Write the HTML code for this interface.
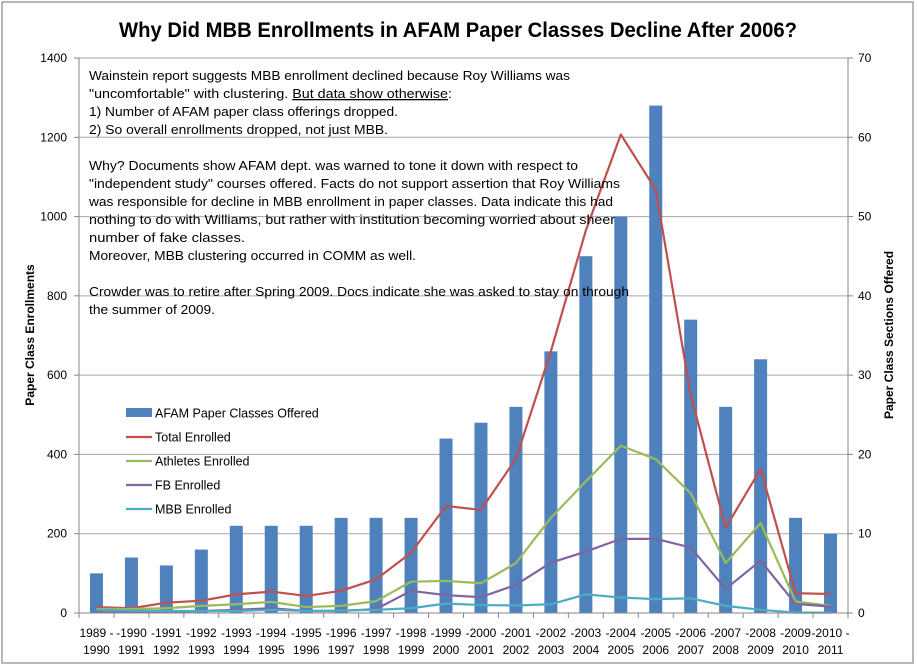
<!DOCTYPE html>
<html><head><meta charset="utf-8"><style>
html,body{margin:0;padding:0;background:#fff;}
svg{display:block;font-family:"Liberation Sans",Arial,sans-serif;}
</style></head><body>
<svg id="chart" width="917" height="667" xmlns="http://www.w3.org/2000/svg">
<rect x="2" y="2" width="911" height="661" fill="#fff" stroke="#a0a0a0" stroke-width="1.5"/>
<text x="458" y="37" text-anchor="middle" font-size="21" font-weight="bold" textLength="678" lengthAdjust="spacingAndGlyphs">Why Did MBB Enrollments in AFAM Paper Classes Decline After 2006?</text>
<g id="grid"></g><g id="bars"></g><g id="lines"></g><g id="axes"></g>
<g font-size="13" fill="#000">
<text x="89" y="80" textLength="481" lengthAdjust="spacingAndGlyphs">Wainstein report suggests MBB enrollment declined because Roy Williams was</text>
<text x="89" y="98" textLength="363" lengthAdjust="spacingAndGlyphs">"uncomfortable" with clustering.  <tspan text-decoration="underline">But data show otherwise</tspan>:</text>
<text x="89" y="116" textLength="309" lengthAdjust="spacingAndGlyphs">1) Number of AFAM paper class offerings dropped.</text>
<text x="89" y="134" textLength="299" lengthAdjust="spacingAndGlyphs">2) So overall enrollments dropped, not just MBB.</text>
<text x="89" y="170" textLength="489" lengthAdjust="spacingAndGlyphs">Why? Documents show AFAM dept. was warned to tone it down with respect to</text>
<text x="89" y="188" textLength="531" lengthAdjust="spacingAndGlyphs">"independent study" courses offered.  Facts do not support assertion that Roy Williams</text>
<text x="89" y="206" textLength="524" lengthAdjust="spacingAndGlyphs">was responsible for decline in MBB enrollment in paper classes. Data indicate this had</text>
<text x="89" y="224" textLength="526" lengthAdjust="spacingAndGlyphs">nothing to do with Williams, but rather with institution becoming worried about sheer</text>
<text x="89" y="242" textLength="156" lengthAdjust="spacingAndGlyphs">number of fake classes.</text>
<text x="89" y="260" textLength="327" lengthAdjust="spacingAndGlyphs">Moreover, MBB clustering occurred in COMM as well.</text>
<text x="89" y="296" textLength="540" lengthAdjust="spacingAndGlyphs">Crowder was to retire after Spring 2009.  Docs indicate she was asked to stay on through</text>
<text x="89" y="314" textLength="126" lengthAdjust="spacingAndGlyphs">the summer of 2009.</text>
</g>
<text transform="translate(34,335) rotate(-90)" text-anchor="middle" font-size="12" font-weight="bold">Paper Class Enrollments</text>
<text transform="translate(893,335) rotate(-90)" text-anchor="middle" font-size="12" font-weight="bold">Paper Class Sections Offered</text>
<g id="legend" font-size="12.5"></g>
</svg>
<script>
const categories=["1989 -|1990","-1990|1991","-1991|1992","-1992|1993","-1993|1994","-1994|1995","-1995|1996","-1996|1997","-1997|1998","-1998|1999","-1999|2000","-2000|2001","-2001|2002","-2002|2003","-2003|2004","-2004|2005","-2005|2006","-2006|2007","-2007|2008","-2008|2009","-2009|2010","-2010 -|2011"];
const sectionsOffered=[5,7,6,8,11,11,11,12,12,12,22,24,26,33,45,50,64,37,26,32,12,10];
const totalEnrolled=[15,12,26,31,47,54,43,56,85,152,270,260,389,660,965,1207,1068,550,215,363,50,48];
const athletesEnrolled=[10,10,12,18,22,28,15,18,30,79,81,75,126,240,332,422,388,302,126,227,29,18];
const fbEnrolled=[2,2,3,5,8,12,5,5,10,56,45,40,71,127,155,187,187,165,61,132,23,16];
const mbbEnrolled=[8,6,5,5,5,8,5,6,8,12,24,20,19,22,47,39,35,37,18,8,1,1];
const leftTicks=[0,200,400,600,800,1000,1200,1400];
const rightTicks=[0,10,20,30,40,50,60,70];
const NS="http://www.w3.org/2000/svg";
const X0=79,X1=848,Y0=613,Y1=58;
const bw=(X1-X0)/categories.length;
const xc=i=>X0+bw*(i+0.5);
const yL=v=>Y0-(v/1400)*(Y0-Y1);
const yR=v=>Y0-(v/70)*(Y0-Y1);
function mk(tag,attrs,parent){const e=document.createElementNS(NS,tag);for(const k in attrs)e.setAttribute(k,attrs[k]);parent.appendChild(e);return e;}
const grid=document.getElementById('grid'),axes=document.getElementById('axes');
leftTicks.forEach((v,i)=>{
  if(v>0){const g=mk('line',{x1:X0,x2:X1,y1:yL(v),y2:yL(v),stroke:'#a6a6a6','stroke-width':1},grid);
  
  }
  const t=mk('text',{x:X0-12,y:yL(v)+4,'text-anchor':'end','font-size':12},axes);t.textContent=v;
  
  
  mk('line',{x1:X0-5,x2:X0,y1:yL(v),y2:yL(v),stroke:'#868686'},axes);
});
rightTicks.forEach(v=>{
  const t=mk('text',{x:X1+10,y:yR(v)+4,'font-size':12},axes);t.textContent=v;
  
  
  mk('line',{x1:X1,x2:X1+5,y1:yR(v),y2:yR(v),stroke:'#868686'},axes);
});
mk('line',{x1:X0,x2:X0,y1:Y1,y2:Y0,stroke:'#868686'},axes);
mk('line',{x1:X1,x2:X1,y1:Y1,y2:Y0,stroke:'#868686'},axes);
mk('line',{x1:X0,x2:X1,y1:Y0,y2:Y0,stroke:'#868686'},axes);
categories.forEach((c,i)=>{
  mk('line',{x1:X0+bw*i,x2:X0+bw*i,y1:Y0,y2:Y0+5,stroke:'#868686'},axes);
  const p=c.split('|');
  const t=mk('text',{x:xc(i),y:Y0+24,'text-anchor':'middle','font-size':12},axes);t.textContent=p[0];
  
  
  const t2=mk('text',{x:xc(i),y:Y0+41,'text-anchor':'middle','font-size':12},axes);t2.textContent=p[1];
  
  
});
mk('line',{x1:X1,x2:X1,y1:Y0,y2:Y0+5,stroke:'#868686'},axes);
const bars=document.getElementById('bars');
sectionsOffered.forEach((v,i)=>{
  const r=mk('rect',{x:xc(i)-6.5,y:yR(v),width:13,height:Y0-yR(v),fill:'#4f81bd'},bars);
  
  
});
const lines=document.getElementById('lines');
const series=[[totalEnrolled,'#c0504d','line-total-enrolled'],[athletesEnrolled,'#9bbb59','line-athletes-enrolled'],[fbEnrolled,'#8064a2','line-fb-enrolled'],[mbbEnrolled,'#4bacc6','line-mbb-enrolled']];
series.forEach(s=>{
  const pts=s[0].map((v,i)=>xc(i)+','+yL(v)).join(' ');
  const pl=mk('polyline',{points:pts,fill:'none',stroke:s[1],'stroke-width':2.2,'stroke-linejoin':'round'},lines);
  
  
});
const legend=document.getElementById('legend');
const lg=[['AFAM Paper Classes Offered','#4f81bd',true],['Total Enrolled','#c0504d'],['Athletes Enrolled','#9bbb59'],['FB Enrolled','#8064a2'],['MBB Enrolled','#4bacc6']];
lg.forEach((l,i)=>{
  const y=413+i*24;
  if(l[2]) mk('rect',{x:126,y:y-5,width:26,height:9,fill:l[1]},legend);
  else mk('line',{x1:126,x2:152,y1:y,y2:y,stroke:l[1],'stroke-width':2.2},legend);
  const t=mk('text',{x:155,y:y+4.5},legend);t.textContent=l[0];
  
  
});
</script>
</body></html>
